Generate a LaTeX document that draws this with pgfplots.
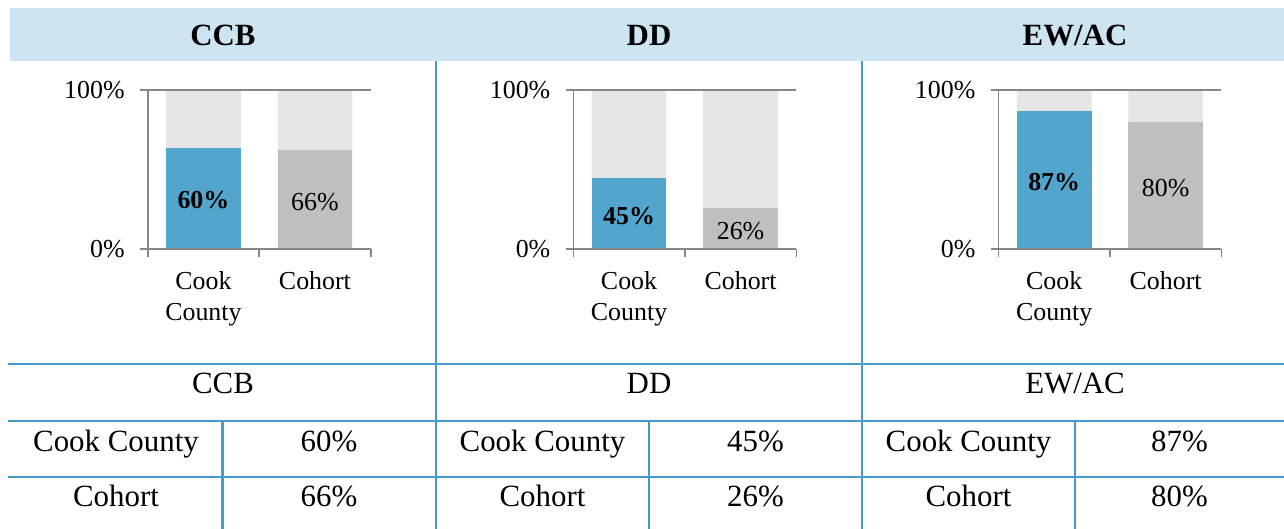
\documentclass[border=0pt]{standalone}
\usepackage{fontspec}
\setmainfont{Liberation Serif}
\usepackage{pgfplots}
\pgfplotsset{compat=1.18}
\definecolor{barblue}{RGB}{82,165,204}
\definecolor{bargray}{RGB}{191,191,191}
\definecolor{barlight}{RGB}{230,230,230}
\definecolor{axisgray}{RGB}{135,135,135}
\definecolor{headblue}{RGB}{205,229,240}
\definecolor{lineblue}{RGB}{70,155,203}
\newcommand{\tabfont}{\fontsize{31}{36}\selectfont}
\newcommand{\axfont}{\fontsize{26}{31}\selectfont}
\pgfplotsset{
  panel/.style={
    anchor=south west, scale only axis, width=223bp, height=159.3bp,
    xmin=0, xmax=2, ymin=0, ymax=100,
    axis x line*=bottom, axis y line*=left,
    axis line style={draw=axisgray, line width=1.6bp, -},
    axis on top,
    tick align=outside, major tick length=7.5bp,
    tick style={draw=axisgray, line width=1.6bp},
    xtick={0,1,2}, xticklabels={},
    extra x ticks={0.5,1.5},
    extra x tick labels={{Cook\\County},Cohort},
    extra x tick style={tick style={draw=none}},
    ytick={0,100}, yticklabels={0\%,100\%},
    ymajorgrids, major grid style={draw=axisgray, line width=1.6bp},
    ticklabel style={font=\axfont},
    xticklabel style={align=center, yshift=-11bp},
    yticklabel style={xshift=-12bp},
    clip=false,
  },
  bg/.style={ybar, bar width=74.7bp, bar shift=0pt, fill=barlight, draw=none},
  val/.style={ybar, bar width=74.7bp, bar shift=0pt, draw=none,
    point meta=explicit symbolic,
    visualization depends on=rawy \as \rawy,
    nodes near coords,
    nodes near coords style={anchor=center, yshift={-0.7965*\rawy*1bp-2bp}, font=\axfont, text=black},
  },
}
\begin{document}
\begin{tikzpicture}[x=1bp,y=1bp]
\useasboundingbox (0,0) rectangle (1284,529);
% header band
\fill[headblue] (10,468) rectangle (1284,521);
\node[anchor=base, font=\tabfont\bfseries] at (223,483.3) {CCB};
\node[anchor=base, font=\tabfont\bfseries] at (649,483.3) {DD};
\node[anchor=base, font=\tabfont\bfseries] at (1075,483.3) {EW/AC};
% table lines
\begin{scope}[draw=lineblue, line width=2.2bp]
\draw (436,468) -- (436,0);
\draw (862,468) -- (862,0);
\draw (8,165) -- (1284,165);
\draw (8,108.3) -- (1284,108.3);
\draw (8,52.3) -- (1284,52.3);
\draw (222.5,108.3) -- (222.5,0);
\draw (649,108.3) -- (649,0);
\draw (1075,108.3) -- (1075,0);
\end{scope}
% table text
\begin{scope}[every node/.style={anchor=base, font=\tabfont}]
\node at (223,135.7) {CCB};
\node at (649,135.7) {DD};
\node at (1075,135.7) {EW/AC};
\node at (116,77.3) {Cook County};
\node at (329,77.3) {60\%};
\node at (116,22.3) {Cohort};
\node at (329,22.3) {66\%};
\node at (542.5,77.3) {Cook County};
\node at (755.5,77.3) {45\%};
\node at (542.5,22.3) {Cohort};
\node at (755.5,22.3) {26\%};
\node at (968.5,77.3) {Cook County};
\node at (1179.5,77.3) {87\%};
\node at (968.5,22.3) {Cohort};
\node at (1179.5,22.3) {80\%};
\end{scope}
% CCB
\begin{axis}[panel, at={(147.7bp,279.7bp)}]
\addplot[bg] coordinates {(0.5,100) (1.5,100)};
\addplot[val, fill=barblue, nodes near coords style={font=\axfont\bfseries}] coordinates {(0.5,63.8) [60\%]};
\addplot[val, fill=bargray] coordinates {(1.5,62.3) [66\%]};
\end{axis}
% DD
\begin{axis}[panel, at={(573.3bp,279.7bp)}]
\addplot[bg] coordinates {(0.5,100) (1.5,100)};
\addplot[val, fill=barblue, nodes near coords style={font=\axfont\bfseries}] coordinates {(0.5,44.8) [45\%]};
\addplot[val, fill=bargray] coordinates {(1.5,25.7) [26\%]};
\end{axis}
% EW/AC
\begin{axis}[panel, at={(998.4bp,279.7bp)}]
\addplot[bg] coordinates {(0.5,100) (1.5,100)};
\addplot[val, fill=barblue, nodes near coords style={font=\axfont\bfseries}] coordinates {(0.5,86.8) [87\%]};
\addplot[val, fill=bargray] coordinates {(1.5,79.9) [80\%]};
\end{axis}
\end{tikzpicture}
\end{document}
